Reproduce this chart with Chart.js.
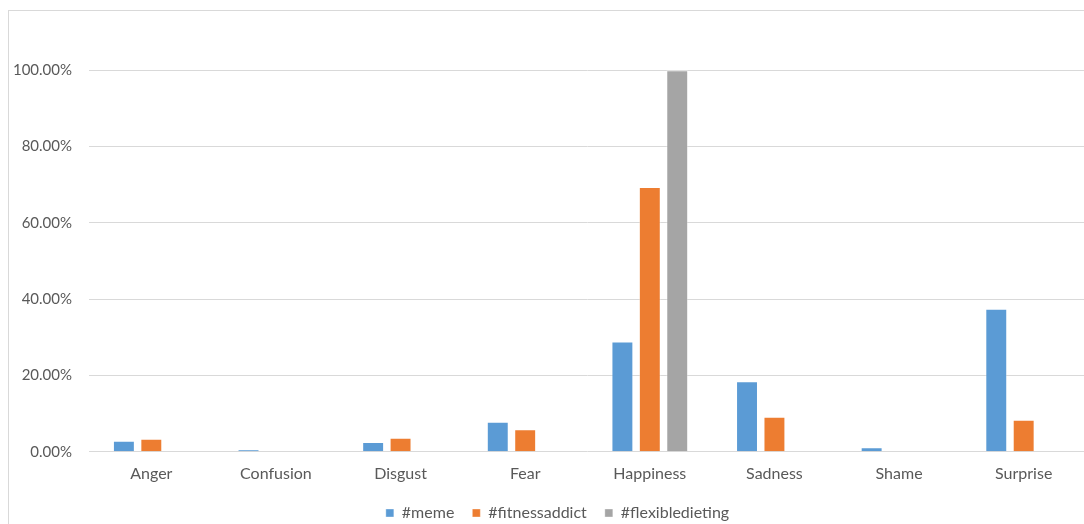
<!DOCTYPE html>
<html>
<head>
<meta charset="utf-8">
<script src="https://cdn.jsdelivr.net/npm/chart.js@4/dist/chart.umd.min.js"></script>
<style>
  html, body { margin: 0; padding: 0; background: #fff; overflow: hidden; }
  #frame {
    position: absolute; left: 8px; top: 10px;
    width: 1100px; height: 530px;
    border: 1px solid #d9d9d9; box-sizing: content-box;
  }
  #chart { position: absolute; left: 9px; top: 6px; display: block; }
</style>
</head>
<body>
<div id="frame"></div>
<canvas id="chart" width="1100" height="525"></canvas>
<script>
// Emotion categories on the x axis
const emotions = ['Anger', 'Confusion', 'Disgust', 'Fear', 'Happiness', 'Sadness', 'Shame', 'Surprise'];

// Share of each emotion per hashtag (fractions of 1)
const memeShares = [0.029, 0.007, 0.026, 0.079, 0.289, 0.185, 0.012, 0.375];
const fitnessAddictShares = [0.034, 0, 0.037, 0.059, 0.694, 0.092, 0, 0.084];
const flexibleDietingShares = [0, 0, 0, 0, 1.0, 0, 0, 0];

// Series names shown in the legend
const seriesNames = ['#meme', '#fitnessaddict', '#flexibledieting'];

// Y axis tick values
const yTicks = [0, 0.2, 0.4, 0.6, 0.8, 1.0];

const textGray = '#595959';
const gridGray = '#d9d9d9';
const fontFamily = 'Lato, "Open Sans", "Liberation Sans", sans-serif';

const bar = (label, data, color) => ({
  label, data,
  backgroundColor: color,
  borderColor: 'rgba(255,255,255,0.35)',
  borderWidth: 1,
  categoryPercentage: 0.66,
  barPercentage: 0.8
});

// Nudge the legend so it sits centred under the plot area rather than the whole canvas
const legendNudge = {
  id: 'legendNudge',
  afterLayout(chart) {
    const lg = chart.legend;
    if (lg) { lg.left += 10; lg.right += 10; }
  }
};

new Chart(document.getElementById('chart'), {
  type: 'bar',
  data: {
    labels: emotions,
    datasets: [
      bar(seriesNames[0], memeShares, '#5b9bd5'),
      bar(seriesNames[1], fitnessAddictShares, '#ed7d31'),
      bar(seriesNames[2], flexibleDietingShares, '#a5a5a5')
    ]
  },
  plugins: [legendNudge],
  options: {
    responsive: false,
    animation: false,
    layout: { padding: { left: 0, right: 23, top: 16, bottom: 0 } },
    plugins: {
      tooltip: { enabled: false },
      legend: {
        position: 'bottom',
        labels: {
          color: textGray,
          font: { family: fontFamily, size: 16 },
          boxWidth: 8,
          boxHeight: 8,
          padding: 18
        }
      }
    },
    scales: {
      x: {
        grid: { display: false },
        border: { display: false },
        ticks: {
          color: textGray,
          font: { family: fontFamily, size: 16 },
          padding: 4,
          maxRotation: 0
        }
      },
      y: {
        min: 0,
        max: 1.1,
        afterBuildTicks: (scale) => {
          scale.ticks = yTicks.map(v => ({ value: v }));
        },
        afterFit: (scale) => { scale.width = 80; },
        grid: { color: gridGray, lineWidth: 1, drawTicks: false },
        border: { display: false },
        ticks: {
          color: textGray,
          font: { family: fontFamily, size: 15 },
          padding: 17,
          callback: (v) => (v * 100).toFixed(2) + '%'
        }
      }
    }
  }
});
</script>
</body>
</html>
